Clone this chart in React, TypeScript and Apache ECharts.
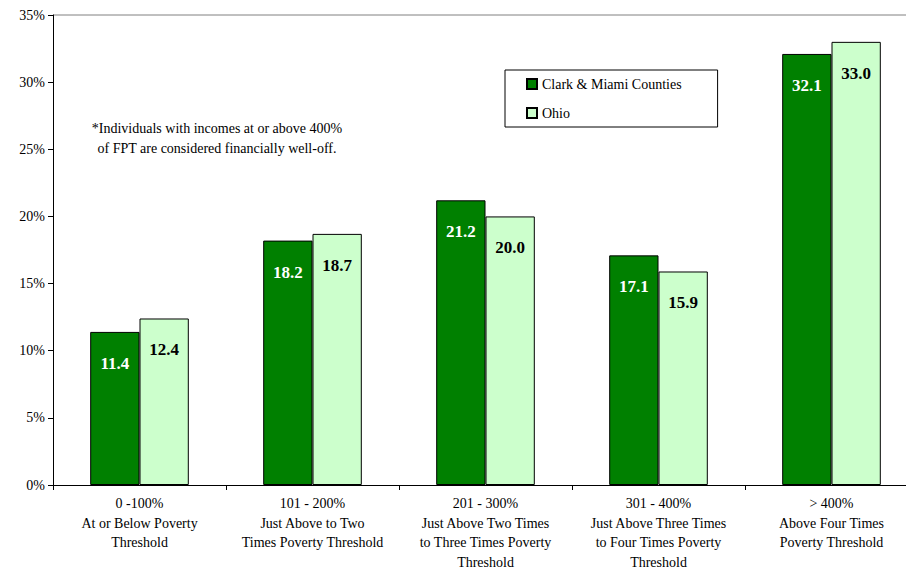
import React, { useEffect, useRef } from "react";
import * as echarts from "echarts";

const categories = [
  "0 -100%\nAt or Below Poverty\nThreshold",
  "101 - 200%\nJust Above to Two\nTimes Poverty Threshold",
  "201 - 300%\nJust Above Two Times\nto Three Times Poverty\nThreshold",
  "301 - 400%\nJust Above Three Times\nto Four Times Poverty\nThreshold",
  "> 400%\nAbove Four Times\nPoverty Threshold",
];
const clarkMiami = [11.4, 18.2, 21.2, 17.1, 32.1];
const ohio = [12.4, 18.7, 20.0, 15.9, 33.0];
const seriesNames = ["Clark & Miami Counties", "Ohio"];
const noteLines = [
  "*Individuals with incomes at or above 400%",
  "of FPT are considered financially well-off.",
];

const FONT = "Times New Roman, Liberation Serif, DejaVu Serif, serif";

export default function App() {
  const ref = useRef<HTMLDivElement>(null);
  useEffect(() => {
    document.body.style.margin = "0";
    document.body.style.overflow = "hidden";
    const chart = echarts.init(ref.current!, null, { renderer: "svg" });
    const labelCommon = {
      show: true,
      position: "insideTop",
      distance: 23,
      fontFamily: FONT,
      fontSize: 17,
      fontWeight: "bold",
      formatter: (p: any) => Number(p.value).toFixed(1),
    };
    chart.setOption({
      animation: false,
      backgroundColor: "#ffffff",
      textStyle: { fontFamily: FONT },
      grid: { left: 53, top: 15, width: 865, height: 470, containLabel: false },
      legend: {
        orient: "vertical",
        left: 505,
        top: 70,
        padding: [7, 36, 7, 21],
        itemGap: 15,
        itemWidth: 10,
        itemHeight: 10,
        borderColor: "#000",
        borderWidth: 1,
        backgroundColor: "#fff",
        textStyle: { fontFamily: FONT, fontSize: 14, color: "#000" },
        data: seriesNames.map((n) => ({ name: n, icon: "rect" })),
      },
      xAxis: {
        type: "category",
        data: categories,
        axisLine: { lineStyle: { color: "#000", width: 1 } },
        axisTick: { show: true, alignWithLabel: false, length: 5, lineStyle: { color: "#000" } },
        axisLabel: {
          interval: 0,
          margin: 9,
          fontFamily: FONT,
          fontSize: 14,
          lineHeight: 19.5,
          color: "#000",
        },
      },
      yAxis: {
        type: "value",
        min: 0,
        max: 35,
        interval: 5,
        axisLine: { show: true, lineStyle: { color: "#000", width: 1 } },
        axisTick: { show: true, length: 5, lineStyle: { color: "#000" } },
        splitLine: { show: false },
        axisLabel: {
          formatter: "{value}%",
          margin: 8,
          fontFamily: FONT,
          fontSize: 14,
          color: "#000",
        },
      },
      graphic: [
        {
          type: "line",
          shape: { x1: 53, y1: 15, x2: 906, y2: 15 },
          style: { stroke: "#808080", lineWidth: 1 },
          z: 0,
        },
        {
          type: "text",
          x: 217,
          y: 138,
          style: {
            text: noteLines.join("\n"),
            fontFamily: FONT,
            fontSize: 14,
            lineHeight: 20,
            fill: "#000",
            align: "center",
            verticalAlign: "middle",
          },
        },
      ],
      series: [
        {
          name: seriesNames[0],
          type: "bar",
          data: clarkMiami,
          barGap: "0%",
          barCategoryGap: "43%",
          itemStyle: { color: "#008000", borderColor: "#000", borderWidth: 1 },
          label: { ...labelCommon, color: "#fff" },
        },
        {
          name: seriesNames[1],
          type: "bar",
          data: ohio,
          barGap: "0%",
          barCategoryGap: "43%",
          itemStyle: { color: "#CCFFCC", borderColor: "#000", borderWidth: 1 },
          label: { ...labelCommon, color: "#000" },
        },
      ],
    });
    return () => chart.dispose();
  }, []);
  return <div ref={ref} style={{ width: 918, height: 577 }} />;
}
